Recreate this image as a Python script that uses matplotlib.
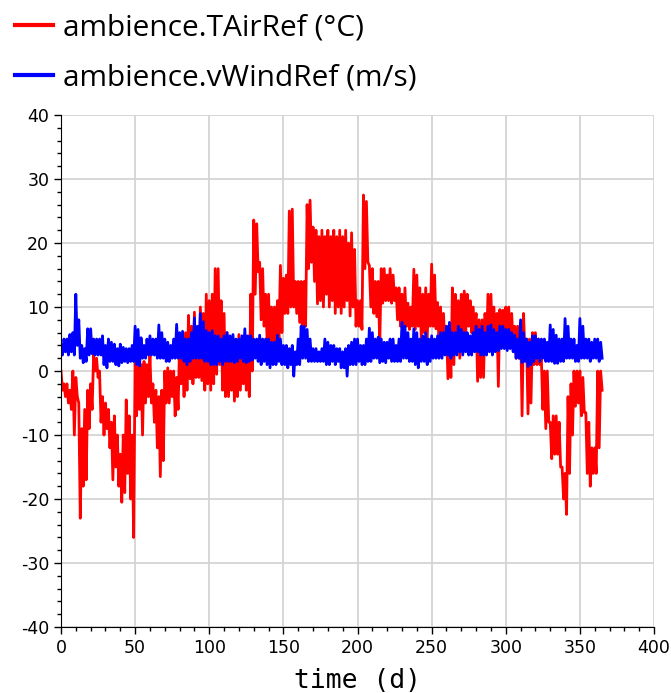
import matplotlib
matplotlib.use("Agg")
import matplotlib.pyplot as plt
from matplotlib.ticker import MultipleLocator
import numpy as np

plt.rcParams['axes.unicode_minus'] = False

# envelope: (high, low) for every 2-day bin, day 0 .. 364
t_air_hi = [
    0, -2, -2, -3, 0, -1, -5, -9, -6, -3,
    -2, 2.5, 2, 0, -4, -5, -6, -8, -7, -10,
    -13, -10, -4.5, -7, -10, 2, 2.5, 1, 1.5, 1,
    2.5, -2, -3, -4, -3, 0, 0.5, 0, 0, -1,
    4.6, 4.7, 6, 8.7, 7, 9.2, 6, 10, 9, 12,
    11, 12, 16, 16, 11, 9, 6, 5, 3.5, 4,
    5.7, 5, 5.7, 4, 12, 23.6, 23, 17, 16, 12,
    12, 10, 10, 11, 16.5, 14.5, 15, 25, 25.3, 14,
    14, 14, 14, 26, 26.7, 22.5, 22, 21, 22, 21,
    22, 21, 22, 21, 22, 21, 22, 20, 21.6, 19,
    11, 11, 27.5, 26.5, 16.5, 16, 14, 14, 16, 16,
    15, 16, 15, 13, 13, 12, 13, 10.6, 10, 15.9,
    15, 13, 12, 13, 12, 16.7, 15, 10.7, 10, 9,
    7, 6, 13, 12, 11, 12, 12.5, 12, 11, 10,
    9, 8, 8, 9, 12, 12, 10, 9, 9.6, 9.5,
    10, 10, 9, 7, 7, 7.5, 9, 5, 5, 6,
    6, 5, 2, 0, 0, -8, -7, -7, -8, -15,
    -16, -4, -2, 0, 0, 0, -1, -6.5, -8, -12,
    -12, 0, 0,
]
t_air_lo = [
    -3, -4, -5, -6, -10, -4, -23, -18, -17, -9,
    -6, 0, -1, -8, -10, -9, -12, -17, -15, -18,
    -20.5, -19, -16, -20, -26, -7, -6, -10, -5, -4,
    -5, -8, -12, -16.5, -14, -5, -5, -4, -7, -6,
    -2, -4, -3, -1.2, -2, -1, -1, -1.5, -3, -2,
    -3, -2, -0.5, 1, -3, -4, -4, -3, -4.7, -4,
    -3, -2, -3, -4, 0, 12, 15.5, 8, 7, 5,
    4.7, 4, 4.7, 5, 6, 9, 9, 10, 10, 9,
    7.6, 3.5, 7, 16, 17, 14, 10.5, 11, 10, 12,
    10, 11, 9, 10, 9, 10, 11, 8.6, 10, 7,
    7, 6.5, 16, 17, 10, 9, 8.5, 4, 10.6, 11,
    11, 10.6, 11, 8, 7, 6.5, 7, 6.5, 7, 6.5,
    7, 5, 6, 5, 7, 7, 6.6, 3.5, 4, 3.5,
    -1.2, -1, 1, 3, 2, 6, 6, 7, 6, 6,
    -1.6, -1, -1, 3.5, 3.5, 4, 3.5, -2.4, 4, 5.5,
    4, 4, 4, 2, 2, -7, 2, -6.7, -5, 1,
    1, 1, -6, -9, -8, -13.7, -13, -13, -15, -20,
    -22.4, -16, -10, -5.5, -5, -7, -6.5, -16, -18, -16,
    -16, -12, -3,
]

v_wind_hi = [
    4, 5, 5, 5.7, 6, 12, 8, 4, 3.5, 6.6,
    6.6, 5, 5, 5, 5.5, 4, 5, 4.5, 4.2, 3.5,
    4.2, 3.7, 3.5, 3.5, 4, 7, 6.5, 5.2, 4, 5,
    5.5, 5, 5, 7.2, 6, 5, 4.5, 4, 5, 7.3,
    6, 6.2, 5, 5, 6, 8.3, 7, 9, 7.7, 6.3,
    6, 6.3, 5.5, 5.5, 5, 5.5, 6, 5.5, 5.7, 5,
    5, 5.5, 6.6, 5.5, 5.5, 5, 5, 5.6, 5, 5,
    5, 4.5, 4.5, 5.6, 5, 4, 4, 3.5, 4, 3,
    5, 7, 7, 6.5, 5, 3.5, 3.5, 3, 3.5, 5,
    4.5, 4, 4, 3.5, 3.5, 3, 3.5, 4, 4.5, 5,
    5, 4, 4, 5, 6.7, 6, 5, 5.3, 5, 4.5,
    4.5, 5, 5, 4, 5, 7.6, 7, 6, 5, 6.6,
    6, 5, 5.5, 6, 5, 5.5, 5, 5.5, 6, 6,
    7, 7.6, 6, 6, 7, 6.5, 6, 6, 5.5, 6,
    7, 6.5, 7, 6, 7, 7.2, 6.5, 6, 7, 7,
    6.5, 6.5, 6, 5.6, 5, 8, 6, 5, 4.5, 5.5,
    5.5, 5, 5, 5, 4.5, 7.2, 6.5, 5.6, 5, 5,
    8.2, 7, 5, 5, 4, 8.2, 7, 5, 5, 4.5,
    5, 5, 4.5,
]
v_wind_lo = [
    2.5, 3, 2.5, 3, 2.5, 4, 2, 1.3, 1.5, 2.5,
    2.7, 2.5, 2.5, 2.5, 1, 0.5, 1.5, 1.5, 1, 0.8,
    1.3, 1.5, 1.3, 1.5, 1.5, 1, 0.8, 2, 2, 2.5,
    2.5, 2.5, 2, 2, 2, 1.5, 1.5, 2, 2, 2,
    2, 1.5, 1, 1.5, 2, 2, 2, 2, 1.5, 1.5,
    1, 1, 1, 1.5, 1, 1.5, 1.5, 1.5, 1.3, 1.5,
    2, 1.5, 1.3, 1.5, 1.7, 2, 1.5, 1, 1.5, 1,
    0.5, 1, 1, 1.5, 1, 1, 0.5, 1, -0.8, 1,
    1, 2, 2, 1.5, 1.5, 1.5, 1.5, 1.5, 1.5, 1,
    1, 1.5, 1, 1.5, 0.5, 0.5, -0.8, 1, 1, 1,
    1.5, 1, 1, 1.5, 1.5, 2, 2, 1.3, 1.5, 1.3,
    2, 1.5, 1.5, 1.5, 1.5, 2, 2, 1.5, 1.5, 1,
    0.5, 1.5, 1.5, 1, 1.5, 2, 2, 2, 2, 2.5,
    2.5, 2, 2.5, 2.5, 3, 2.5, 3, 2.5, 2.5, 3,
    3, 2.5, 2.5, 2.5, 3, 2.5, 3, 3.2, 3.5, 3.5,
    3.2, 3.5, 3, 2, 2, 1.3, 1.5, 0.7, 1, 1.5,
    2, 1.5, 2, 1.5, 1.5, 1.5, 1.2, 1.2, 1.5, 1.5,
    2, 2, 2, 1.5, 1.5, 2, 2, 2, 1.5, 2,
    2, 1.5, 2,
]

# one reading per day: high on even days, low on odd days
t_air = np.ravel(np.column_stack([t_air_hi, t_air_lo]))
v_wind = np.ravel(np.column_stack([v_wind_hi, v_wind_lo]))
days = np.arange(len(t_air))

fig = plt.figure(figsize=(6.71, 6.93), dpi=100)
ax = fig.add_axes([0.0909, 0.0952, 0.8838, 0.7388])

ax.plot(days, t_air, color='#ff0000', lw=2, label='ambience.TAirRef (°C)')
ax.plot(days, v_wind, color='#0000ff', lw=2, label='ambience.vWindRef (m/s)')

ax.set_xlim(0, 400)
ax.set_ylim(-40, 40)
ax.xaxis.set_major_locator(MultipleLocator(50))
ax.xaxis.set_minor_locator(MultipleLocator(10))
ax.yaxis.set_major_locator(MultipleLocator(10))
ax.yaxis.set_minor_locator(MultipleLocator(2))
ax.grid(True, which='major', color='#d4d4d4', lw=1.3)
ax.set_axisbelow(True)
for s in ['top', 'right']:
    ax.spines[s].set_visible(False)
ax.tick_params(which='major', length=5, width=1, labelsize=12.5)
ax.tick_params(which='minor', length=3, width=1)
for lab in ax.get_xticklabels() + ax.get_yticklabels():
    lab.set_family(['Liberation Sans Narrow', 'DejaVu Sans'])

ax.set_xlabel('time (d)', family='DejaVu Sans Mono', fontsize=19, labelpad=8)

fig.legend(loc='upper left', bbox_to_anchor=(0.003, 1.0), frameon=False,
           prop={'family': 'Open Sans', 'size': 21.5}, handlelength=1.25,
           handletextpad=0.35, labelspacing=0.7, borderpad=0.3,
           borderaxespad=0.15)
for line in fig.legends[0].get_lines():
    line.set_linewidth(3)

fig.savefig('out.png', dpi=100)
